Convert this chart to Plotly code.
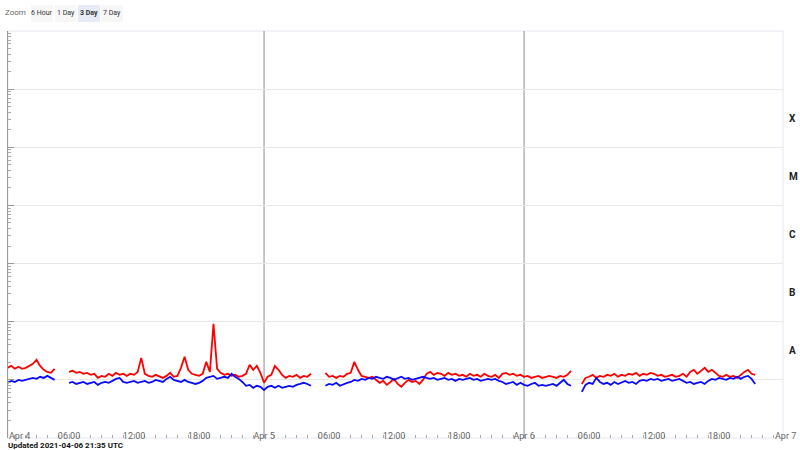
import pandas as pd
import plotly.graph_objects as go

# ---------------- data (flux in units of 1e-8 W/m^2) ----------------
UNIT = 1e-8
SEG_STARTS = ["2021-04-04 00:20", "2021-04-04 06:00", "2021-04-05 05:40", "2021-04-06 05:20"]
SAMPLE_FREQ = "20min"

long_1 = [1.61, 1.74, 1.55, 1.68, 1.55, 1.61, 1.74, 1.89, 2.21, 1.74, 1.49, 1.37, 1.32, 1.55]
short_1 = [0.89, 0.96, 0.92, 1.00, 0.96, 1.00, 1.04, 1.08, 1.04, 1.13, 1.08, 1.17, 1.08, 1.00]

long_2 = [1.37, 1.43, 1.32, 1.37, 1.27, 1.32, 1.22, 1.27, 1.08, 1.17,
          1.13, 1.27, 1.17, 1.32, 1.22, 1.27, 1.17, 1.27, 1.22, 1.37,
          2.39, 1.27, 1.17, 1.13, 1.22, 1.13, 1.08, 1.17, 1.32, 1.13,
          1.17, 1.61, 2.49, 1.49, 1.27, 1.22, 1.17, 1.27, 2.04, 1.37,
          9.23, 1.55, 1.32, 1.22, 1.27, 1.17, 1.22, 1.13, 1.17, 1.27,
          1.81, 1.49, 1.74, 1.32, 0.89, 1.13, 1.22, 1.74, 1.49, 1.22,
          1.08, 1.17, 1.13, 1.22, 1.08, 1.17, 1.13, 1.27]
short_2 = [0.89, 0.92, 0.85, 0.89, 0.92, 0.85, 0.89, 0.92, 0.82, 0.89,
           0.92, 0.89, 0.96, 1.04, 1.08, 0.92, 0.89, 0.92, 0.96, 0.89,
           0.92, 0.96, 0.89, 0.92, 1.00, 0.96, 0.92, 1.04, 1.13, 1.00,
           0.96, 0.92, 1.00, 0.92, 0.89, 0.85, 0.89, 0.96, 1.08, 1.13,
           1.17, 1.04, 1.08, 1.13, 1.08, 1.27, 1.13, 1.04, 0.92, 0.79,
           0.82, 0.73, 0.79, 0.76, 0.67, 0.76, 0.79, 0.73, 0.79, 0.73,
           0.76, 0.79, 0.76, 0.82, 0.85, 0.89, 0.85, 0.79]

long_3 = [1.32, 1.13, 1.17, 1.08, 1.17, 1.13, 1.27, 1.32, 2.04, 1.49,
          1.17, 1.13, 1.08, 1.13, 1.00, 0.89, 0.96, 0.82, 0.92, 1.04,
          0.85, 0.76, 0.89, 1.00, 0.92, 0.96, 0.85, 1.00, 1.27, 1.37,
          1.22, 1.32, 1.27, 1.17, 1.32, 1.22, 1.27, 1.17, 1.22, 1.13,
          1.27, 1.17, 1.22, 1.13, 1.27, 1.17, 1.13, 1.22, 1.08, 1.27,
          1.32, 1.22, 1.27, 1.17, 1.22, 1.13, 1.17, 1.08, 1.13, 1.17,
          1.08, 1.13, 1.17, 1.13, 1.08, 1.17, 1.13, 1.22, 1.43]
short_3 = [0.79, 0.85, 0.82, 0.89, 0.79, 0.85, 0.89, 0.92, 1.00, 0.96,
           1.04, 1.00, 1.08, 1.04, 1.13, 1.08, 1.04, 1.13, 1.08, 1.00,
           1.08, 1.13, 1.04, 1.08, 1.00, 1.04, 1.08, 1.13, 1.08, 1.04,
           1.08, 1.00, 1.04, 1.08, 1.00, 1.04, 0.96, 1.04, 1.00, 1.04,
           1.08, 1.00, 1.04, 0.96, 1.00, 1.04, 1.00, 1.04, 0.96, 0.92,
           0.85, 0.89, 0.92, 0.82, 0.89, 0.82, 0.79, 0.85, 0.89, 0.79,
           0.82, 0.79, 0.82, 0.85, 0.79, 0.89, 1.00, 0.85, 0.79]

long_4 = [0.85, 1.08, 1.13, 1.22, 1.08, 1.17, 1.13, 1.22, 1.17, 1.27,
          1.13, 1.22, 1.17, 1.27, 1.22, 1.32, 1.17, 1.27, 1.22, 1.32,
          1.27, 1.17, 1.22, 1.13, 1.17, 1.22, 1.13, 1.17, 1.27, 1.13,
          1.37, 1.49, 1.27, 1.43, 1.61, 1.37, 1.49, 1.32, 1.17, 1.13,
          1.22, 1.13, 1.17, 1.08, 1.22, 1.37, 1.49, 1.27, 1.22]
short_4 = [0.62, 0.82, 0.89, 0.85, 1.08, 0.92, 0.85, 0.89, 0.82, 0.92,
           0.85, 0.89, 0.96, 0.89, 0.92, 0.85, 0.96, 1.00, 0.96, 1.04,
           1.00, 1.04, 0.96, 1.00, 1.04, 0.96, 1.00, 1.04, 0.96, 0.89,
           0.92, 0.85, 0.89, 0.92, 0.85, 0.96, 1.04, 1.00, 1.08, 1.04,
           1.00, 1.08, 1.04, 1.13, 1.04, 1.13, 1.17, 1.04, 0.85]

LONG_SEGS = [long_1, long_2, long_3, long_4]
SHORT_SEGS = [short_1, short_2, short_3, short_4]

TICK_VALS = ["2021-04-04 06:00", "2021-04-04 12:00", "2021-04-04 18:00", "2021-04-05 00:00",
             "2021-04-05 06:00", "2021-04-05 12:00", "2021-04-05 18:00", "2021-04-06 00:00",
             "2021-04-06 06:00", "2021-04-06 12:00", "2021-04-06 18:00"]
TICK_TEXT = ["06:00", "12:00", "18:00", "Apr 5", "06:00", "12:00", "18:00", "Apr 6",
             "06:00", "12:00", "18:00"]
EDGE_LABELS = ["Apr 4", "Apr 7"]
DAY_LINES = ["2021-04-05 00:00", "2021-04-06 00:00"]
X_RANGE = ["2021-04-04 00:22", "2021-04-06 23:54"]
CLASS_LABELS = ["X", "M", "C", "B", "A"]
CLASS_CENTERS = [-3.5, -4.5, -5.5, -6.5, -7.5]  # log10 flux
ZOOM_BUTTONS = ["6 Hour", "1 Day", "3 Day", "7 Day"]
ACTIVE_BUTTON = "3 Day"
UPDATED = "Updated 2021-04-06 21:35 UTC"


def build(segs):
    xs, ys = [], []
    for start, seg in zip(SEG_STARTS, segs):
        t = pd.date_range(start, periods=len(seg), freq=SAMPLE_FREQ)
        xs += list(t) + [t[-1] + pd.Timedelta(minutes=10)]
        ys += [v * UNIT for v in seg] + [None]
    return xs, ys


FONT = "Roboto, Liberation Sans, Arial, sans-serif"
fig = go.Figure()
xl, yl = build(LONG_SEGS)
xs, ys = build(SHORT_SEGS)
fig.add_trace(go.Scatter(x=xl, y=yl, mode="lines", line=dict(color="#ff0000", width=1.8),
                         connectgaps=False, hoverinfo="skip", showlegend=False))
fig.add_trace(go.Scatter(x=xs, y=ys, mode="lines", line=dict(color="#0a0aff", width=1.8),
                         connectgaps=False, hoverinfo="skip", showlegend=False))

W, H = 800, 450
L, R, T, B = 8, 17, 31, 12
pw, ph = W - L - R, H - T - B


def px(x):
    return (x - L) / pw


def py(y):
    return (H - B - y) / ph


shapes = []
shapes.append(dict(type="rect", xref="paper", yref="paper", x0=0, x1=1, y0=0, y1=1,
                   line=dict(color="#e3e8f0", width=1), layer="below"))
for d in DAY_LINES:
    shapes.append(dict(type="line", xref="x", yref="paper", x0=d, x1=d, y0=0, y1=1,
                       line=dict(color="#8f8f8f", width=1), layer="below"))

annotations = []
for lab, c in zip(CLASS_LABELS, CLASS_CENTERS):
    annotations.append(dict(text="<b>%s</b>" % lab, xref="paper", yref="y", x=1, y=c,
                            xanchor="left", yanchor="middle", xshift=4, showarrow=False,
                            font=dict(size=10, color="#222", family=FONT)))
annotations.append(dict(text=EDGE_LABELS[0], xref="paper", yref="paper", x=px(7), y=py(436),
                        xanchor="left", yanchor="middle", showarrow=False,
                        font=dict(size=9, color="#666", family=FONT)))
annotations.append(dict(text=EDGE_LABELS[1], xref="paper", yref="paper", x=px(785), y=py(436),
                        xanchor="center", yanchor="middle", showarrow=False,
                        font=dict(size=9, color="#666", family=FONT)))
annotations.append(dict(text="<b>%s</b>" % UPDATED, xref="paper", yref="paper", x=px(6), y=py(445),
                        xanchor="left", yanchor="middle", showarrow=False,
                        font=dict(size=8, color="#111", family=FONT)))
annotations.append(dict(text="Zoom", xref="paper", yref="paper", x=px(28), y=py(13),
                        xanchor="right", yanchor="middle", showarrow=False,
                        font=dict(size=8, color="#666", family=FONT)))
bx = [(31, 53), (55, 76), (78, 100), (101, 123)]
for lab, (x0, x1) in zip(ZOOM_BUTTONS, bx):
    active = lab == ACTIVE_BUTTON
    shapes.append(dict(type="rect", xref="paper", yref="paper", x0=px(x0), x1=px(x1),
                       y0=py(22), y1=py(5), line=dict(width=0),
                       fillcolor="#e6ebf5" if active else "#f7f7f7"))
    annotations.append(dict(text=("<b>%s</b>" % lab) if active else lab, xref="paper", yref="paper",
                            x=px((x0 + x1) / 2), y=py(13), xanchor="center", yanchor="middle",
                            showarrow=False, font=dict(size=7, color="#333", family=FONT)))

fig.update_layout(
    width=W, height=H, margin=dict(l=L, r=R, t=T, b=B),
    plot_bgcolor="white", paper_bgcolor="white",
    font=dict(family=FONT, size=9, color="#666"),
    shapes=shapes, annotations=annotations,
    xaxis=dict(type="date", range=X_RANGE, tickvals=TICK_VALS, ticktext=TICK_TEXT,
               showgrid=False, zeroline=False, showline=False, ticks="",
               ticklabelstandoff=-9, tickfont=dict(size=9, color="#666"),
               minor=dict(ticks="inside", ticklen=3, tickcolor="#aaaaaa",
                          dtick=3600000, tick0="2021-04-04 00:00", showgrid=False)),
    yaxis=dict(type="log", range=[-9, -2], dtick=1, showticklabels=False,
               showgrid=True, gridcolor="#e8e8e8", gridwidth=1, zeroline=False,
               showline=True, linecolor="#999999", linewidth=1,
               ticks="inside", ticklen=6, tickcolor="#999999",
               minor=dict(ticks="inside", ticklen=3, tickcolor="#aaaaaa", dtick="D1", showgrid=False)),
)

fig.write_html("out.html", config={"displayModeBar": False},
               post_script="document.body.style.margin='0';")
